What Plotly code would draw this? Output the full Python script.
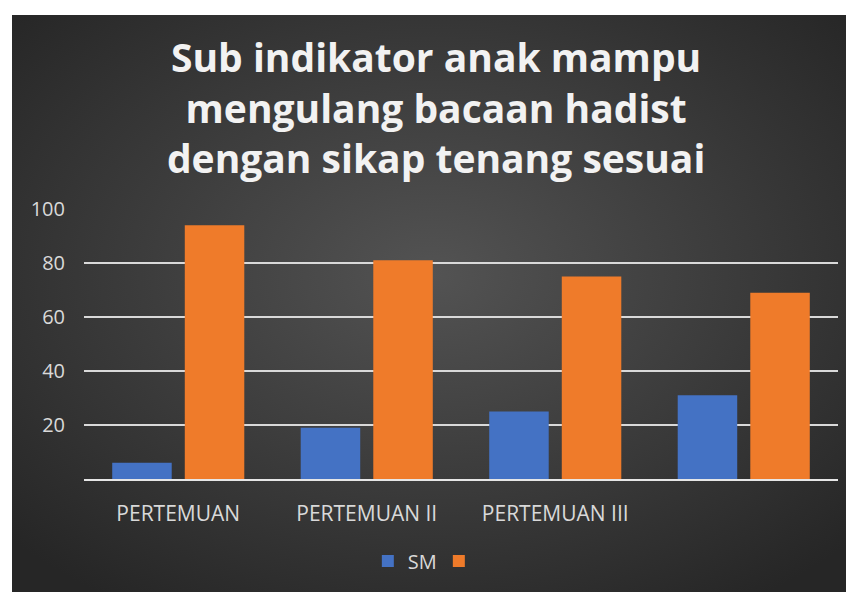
import base64

import plotly.graph_objects as go

categories = ["PERTEMUAN", "PERTEMUAN II", "PERTEMUAN III", " "]
sm_values = [6, 19, 25, 31]
other_values = [94, 81, 75, 69]
y_ticks = [0, 20, 40, 60, 80, 100]
y_tick_labels = ["", "20", "40", "60", "80", "100"]

title_text = "Sub indikator anak mampu<br>mengulang bacaan hadist<br>dengan sikap tenang sesuai"

# radial grey backdrop like the office chart style
svg = (
    '<svg xmlns="http://www.w3.org/2000/svg" width="842" height="577">'
    '<defs><radialGradient id="g" cx="50%" cy="45%" r="68%">'
    '<stop offset="0" stop-color="#535353"/>'
    '<stop offset="1" stop-color="#262626"/>'
    "</radialGradient></defs>"
    '<rect width="100%" height="100%" fill="url(#g)"/></svg>'
)
bg_src = "data:image/svg+xml;base64," + base64.b64encode(svg.encode()).decode()

fig = go.Figure()

fig.add_trace(
    go.Bar(
        x=categories,
        y=sm_values,
        name="SM",
        marker=dict(color="#4472C4", line_width=0),
    )
)
fig.add_trace(
    go.Bar(
        x=categories,
        y=other_values,
        name=" ",
        marker=dict(color="#EF7B2A", line_width=0),
    )
)

fig.update_layout(
    width=854,
    height=592,
    margin=dict(l=76, r=24, t=201, b=121),
    paper_bgcolor="white",
    plot_bgcolor="rgba(0,0,0,0)",
    barmode="group",
    bargap=0.23,
    bargroupgap=0.18,
    font=dict(family="Open Sans", color="#d9d9d9"),
    title=dict(
        text=title_text,
        font=dict(family="Open Sans", size=39, color="#f2f2f2", weight="bold"),
        x=0.467,
        xref="paper",
        xanchor="center",
        y=0.892,
        yref="container",
        yanchor="middle",
    ),
    legend=dict(
        orientation="h",
        x=0.4706,
        xanchor="center",
        y=-0.304,
        yanchor="middle",
        entrywidth=26,
        entrywidthmode="pixels",
        font=dict(size=20, color="#d9d9d9"),
        bgcolor="rgba(0,0,0,0)",
    ),
    images=[
        dict(
            source=bg_src,
            xref="paper",
            yref="paper",
            x=-0.0955,
            y=1.7185,
            sizex=1.1167,
            sizey=2.137,
            xanchor="left",
            yanchor="top",
            sizing="stretch",
            layer="below",
        )
    ],
)

fig.update_yaxes(
    range=[0, 100],
    tickvals=y_ticks,
    ticktext=y_tick_labels,
    showgrid=True,
    gridcolor="#d9d9d9",
    gridwidth=2,
    zeroline=False,
    showline=False,
    ticks="",
    ticklabelstandoff=18,
    tickfont=dict(size=20, color="#d9d9d9"),
)
fig.update_xaxes(
    showline=True,
    linecolor="#e6e6e6",
    linewidth=2,
    ticks="",
    ticklabelstandoff=15,
    tickfont=dict(size=21, color="#d9d9d9"),
)

fig.write_html("out.html")
